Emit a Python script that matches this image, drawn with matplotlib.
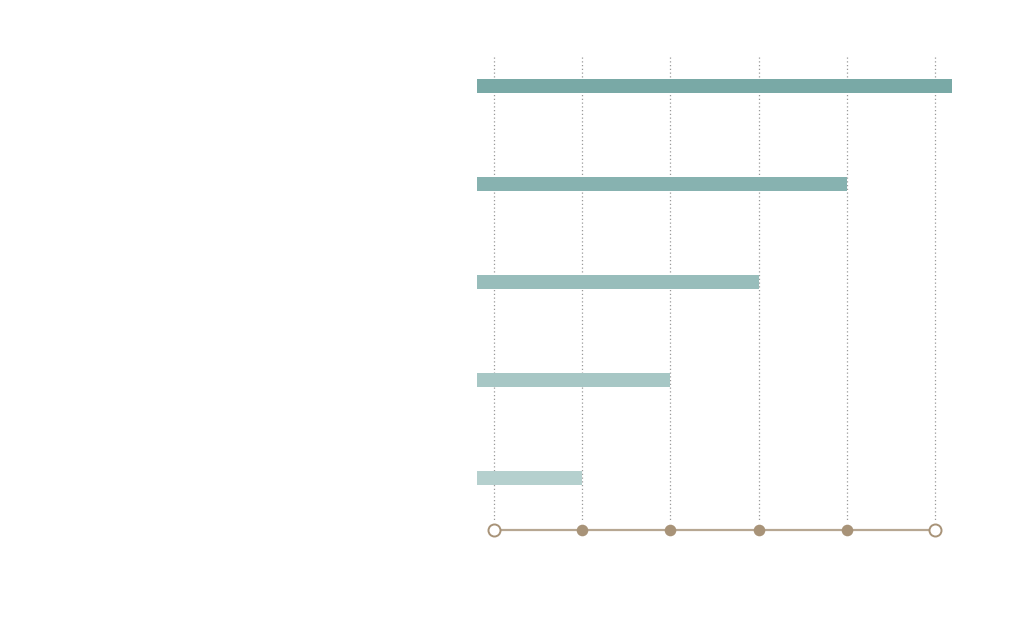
import matplotlib
matplotlib.use("Agg")
import matplotlib.pyplot as plt

# Data
categories = ["A", "B", "C", "D", "E"]
values = [5.19, 4, 3, 2, 1]
bar_start = -0.19
ticks = [0, 1, 2, 3, 4, 5]
bar_colors = ["#79a9a6", "#87b2b0", "#98bdbb", "#a7c7c5", "#b5d0ce"]

W, H = 1024, 629
fig = plt.figure(figsize=(W / 100, H / 100), dpi=100)
fig.patch.set_facecolor("white")

# axes placement in pixels
px_per_unit_x = 88.2
x0_px = 494 - 0.2 * px_per_unit_x
x1_px = 494 + 5.2 * px_per_unit_x
py_unit = 98.0
top_px = 86 - 0.3 * py_unit
bot_px = 86 + 4.7 * py_unit
ax = fig.add_axes([x0_px / W, (H - bot_px) / H, (x1_px - x0_px) / W, (bot_px - top_px) / H])
ax.set_xlim(-0.2, 5.2)
ax.set_ylim(4.7, -0.3)
ax.axis("off")

ypos = list(range(len(categories)))

# gridlines
ax.vlines(ticks, -0.3, 4.43, colors="#999999", linestyles=(0, (1, 2.0)), linewidth=0.9, zorder=1)

# bars
ax.barh(ypos, [v - bar_start for v in values], left=bar_start, height=0.15,
        color=bar_colors, zorder=2)

# axis line with markers
axis_y = 4.53
ax.plot(ticks, [axis_y] * len(ticks), color="#b7a792", linewidth=1.6, zorder=3, clip_on=False)
inner = ticks[1:-1]
ax.scatter(inner, [axis_y] * len(inner), s=70, color="#a89378", zorder=4, clip_on=False, linewidths=0)
ends = [ticks[0], ticks[-1]]
ax.scatter(ends, [axis_y] * 2, s=75, facecolor="white", edgecolor="#a89378", linewidths=1.4,
           zorder=4, clip_on=False)

fig.savefig("out.png", dpi=100, facecolor="white")
